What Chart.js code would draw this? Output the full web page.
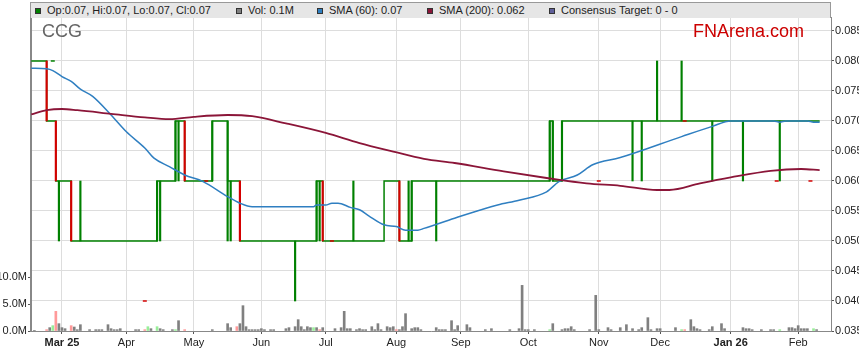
<!DOCTYPE html>
<html>
<head>
<meta charset="utf-8">
<title>CCG</title>
<script src="https://cdn.jsdelivr.net/npm/chart.js@4.4.1/dist/chart.umd.min.js"></script>
<style>
  body { margin: 0; background: #fff; font-family: "Liberation Sans", Arial, sans-serif; }
  #wrap { position: relative; width: 859px; height: 363px; overflow: hidden; }
  #price-chart { position: absolute; left: 0; top: 0; }
  #legend-bar { position: absolute; left: 30px; top: 2px; width: 799px; height: 15px; background: #e6e6e6;
                border: 1px solid #999; border-bottom: none; font-size: 11px; color: #222; }
  .legend-item { position: absolute; top: 0; height: 15px; line-height: 15px; white-space: nowrap; }
  .legend-item i { display: inline-block; width: 4px; height: 4px; border: 1px solid #333; margin-right: 6px;
                   vertical-align: 0px; }
  .stock-code { position: absolute; left: 42px; top: 22px; font-size: 18px; line-height: 18px; color: #666; }
  .watermark { position: absolute; left: 693px; top: 22px; font-size: 18px; line-height: 18px; color: #cc0000; }
</style>
</head>
<body>
<div id="wrap">
  <canvas id="price-chart" width="859" height="363"></canvas>
  <div id="legend-bar">
    <span class="legend-item" style="left:4px"><i style="background:#008000"></i>Op:0.07, Hi:0.07, Lo:0.07, Cl:0.07</span>
    <span class="legend-item" style="left:205px"><i style="background:#808080"></i>Vol: 0.1M</span>
    <span class="legend-item" style="left:286px"><i style="background:#2f7fc1"></i>SMA (60): 0.07</span>
    <span class="legend-item" style="left:396px"><i style="background:#8b1538"></i>SMA (200): 0.062</span>
    <span class="legend-item" style="left:518px"><i style="background:#60609a"></i>Consensus Target: 0 - 0</span>
  </div>
  <div class="stock-code">CCG</div>
  <div class="watermark">FNArena.com</div>
</div>
<script>
// Day index = trading (week) day counted from Mon 3 Mar 2025
const monthTickDays = [0, 21, 43, 65, 86, 109, 130, 152, 175, 195, 218, 240];
const monthLabels = ["Mar 25", "Apr", "May", "Jun", "Jul", "Aug", "Sep", "Oct", "Nov", "Dec", "Jan 26", "Feb"];
const priceTicks = [0.035, 0.040, 0.045, 0.050, 0.055, 0.060, 0.065, 0.070, 0.075, 0.080, 0.085];
const volumeTicks = [0, 5, 10]; // millions

// Close price: day the close moved and the new close
const closeDays = [-10, -5, -2, 3, 31, 37, 40, 49, 54, 58, 83, 85, 105, 110, 114, 159, 160, 163, 247];
const closeVals = [0.08, 0.07, 0.06, 0.05, 0.06, 0.07, 0.06, 0.07, 0.06, 0.05, 0.06, 0.05, 0.06, 0.05, 0.06, 0.07, 0.06, 0.07, 0.07];

// High-low ranges (1 = up day, 0 = down day)
const barDays  = [-5, -2, -1, 3, 6, 31, 32, 37, 38, 40, 49, 54, 55, 58, 76, 83, 84, 85, 95, 110, 113, 114, 122, 159, 160, 163, 186, 189, 194, 202, 212, 222, 234];
const barLows  = [0.07, 0.06, 0.05, 0.05, 0.05, 0.05, 0.05, 0.06, 0.06, 0.06, 0.06, 0.05, 0.05, 0.05, 0.04, 0.05, 0.05, 0.05, 0.05, 0.05, 0.05, 0.05, 0.05, 0.06, 0.06, 0.06, 0.06, 0.06, 0.07, 0.07, 0.06, 0.06, 0.06];
const barHighs = [0.08, 0.07, 0.06, 0.06, 0.06, 0.06, 0.06, 0.07, 0.07, 0.07, 0.07, 0.07, 0.06, 0.06, 0.05, 0.06, 0.06, 0.06, 0.06, 0.06, 0.06, 0.06, 0.06, 0.07, 0.07, 0.07, 0.07, 0.07, 0.08, 0.08, 0.07, 0.07, 0.07];
const barUp    = [0, 0, 1, 0, 1, 1, 1, 1, 1, 0, 1, 1, 1, 0, 1, 1, 1, 0, 1, 0, 1, 1, 1, 1, 1, 1, 1, 1, 1, 1, 1, 1, 1];

// Stray open/close ticks
const tickDays = [-3, 27, 47, 88, 175, 203, 233, 244];
const tickVals = [0.08, 0.04, 0.06, 0.05, 0.06, 0.07, 0.06, 0.06];
const tickUp   = [1, 0, 0, 0, 0, 0, 0, 0];

// Moving averages
const sma60Days = [-10, -5, -3, 0, 3, 6, 10, 16, 21, 27, 30, 35, 40, 46, 54, 58, 62, 82, 83, 86, 88, 90, 94, 97, 100, 105, 109, 112, 116, 118, 128, 142, 149, 158, 162, 168, 173, 182, 202, 212, 218, 232, 234, 236, 243, 245, 247];
const sma60 = [0.0788, 0.0787, 0.0784, 0.0774, 0.0766, 0.0753, 0.0741, 0.0710, 0.0682, 0.0655, 0.0638, 0.0624, 0.0610, 0.0599, 0.0574, 0.0563, 0.0557, 0.0557, 0.0560, 0.0560, 0.0563, 0.0563, 0.0556, 0.0552, 0.0542, 0.0527, 0.0524, 0.0518, 0.0518, 0.0521, 0.0538, 0.0560, 0.0568, 0.0582, 0.0599, 0.0610, 0.0627, 0.0639, 0.0674, 0.0691, 0.0700, 0.0700, 0.0698, 0.0700, 0.0700, 0.0698, 0.0698];
const sma200Days = [-10, -5, 0, 5, 16, 27, 35, 43, 54, 62, 73, 86, 97, 108, 118, 128, 144, 158, 171, 182, 194, 198, 208, 218, 231, 241, 247];
const sma200 = [0.0711, 0.0718, 0.0720, 0.0718, 0.0712, 0.0706, 0.0703, 0.0707, 0.0710, 0.0708, 0.0696, 0.0680, 0.0663, 0.0649, 0.0637, 0.0630, 0.0616, 0.0605, 0.0596, 0.0592, 0.0585, 0.0585, 0.0596, 0.0606, 0.0617, 0.0620, 0.0618];

// Volume in millions
const volDays = [-9, -5, -4, -3, -2, -1, 0, 1, 3, 4, 5, 6, 9, 11, 12, 13, 15, 16, 17, 18, 19, 24, 25, 27, 28, 29, 31, 32, 33, 36, 37, 38, 40, 49,
  54, 55, 57, 58, 59, 60, 61, 62, 63, 64, 65, 66, 68, 69, 73, 74, 76, 77, 78, 79, 80, 81, 82, 83, 84, 85, 89, 91, 92, 93, 94, 96, 97, 98, 99,
  101, 102, 103, 104, 106, 107, 108, 109, 110, 111, 112, 114, 115, 116, 117, 122, 123, 124, 125, 127, 128, 129, 132, 133, 138, 140, 146, 149,
  150, 151, 152, 154, 159, 160, 163, 164, 165, 166, 167, 172, 174, 175, 178, 179, 182, 184, 186, 188, 189, 191, 192, 194, 195, 200, 202, 203,
  205, 206, 207, 208, 211, 212, 215, 216, 222, 223, 224, 225, 228, 231, 232, 234, 237, 238, 239, 240, 241, 242, 243, 245, 246];
const volumes = [0.12, 0.25, 0.62, 0.99, 3.64, 1.36, 0.62, 0.43, 0.99, 0.74, 0.25, 1.17, 0.25, 0.25, 0.25, 0.25, 1.17, 0.43, 0.25, 0.25, 0.43, 0.25, 0.25, 0.25, 0.80, 0.43, 0.80, 0.43, 0.25, 0.25, 0.25, 1.91, 0.25, 0.25,
  1.36, 0.62, 0.80, 1.36, 4.69, 0.80, 0.25, 0.25, 0.25, 0.25, 0.43, 0.25, 0.25, 0.25, 0.43, 0.62, 0.80, 2.10, 0.80, 0.25, 0.80, 0.62, 0.62, 0.62, 0.25, 0.62, 0.43, 0.62, 3.64, 0.43, 0.43, 0.25, 0.43, 0.25, 0.25,
  0.80, 0.25, 1.36, 0.25, 0.80, 0.62, 0.80, 0.25, 0.25, 0.80, 3.21, 0.43, 0.62, 0.62, 0.25, 0.62, 0.25, 0.25, 0.25, 1.91, 0.25, 0.99, 1.17, 0.62, 0.25, 0.43, 0.25, 0.43,
  8.45, 0.25, 0.25, 0.25, 0.25, 1.36, 0.25, 0.43, 0.43, 0.80, 0.25, 0.25, 6.60, 0.25, 0.62, 0.25, 0.62, 1.17, 0.43, 0.25, 0.62, 2.47, 0.25, 0.43, 0.43, 0.62, 0.25, 0.25,
  2.10, 0.80, 0.43, 0.25, 0.25, 0.80, 1.36, 0.43, 0.62, 0.43, 0.43, 0.25, 0.25, 0.25, 0.25, 0.25, 0.62, 0.62, 0.43, 0.99, 0.43, 0.43, 0.43, 0.43, 0.25];
const upVolDays = [-3, 28, 31, 37, 82, 159, 202, 234, 245];
const downVolDays = [-5, -2, 3, 27, 40, 57, 84, 109, 203];

// Colours
const UP_GREEN = "#008000";
const DOWN_RED = "#d40000";
const FONT_FAMILY = '"Liberation Sans", Arial, sans-serif';

Chart.defaults.font.family = FONT_FAMILY;
Chart.defaults.font.size = 11;
Chart.defaults.color = "#222";

function volumeColour(day) {
    if (upVolDays.includes(day)) return "#99ee99";
    if (downVolDays.includes(day)) return "#ff9a9a";
    return "#808080";
}

// Build datasets from the arrays
const closePoints = closeDays.map((d, i) => ({ x: d, y: closeVals[i] }));
const rangePoints = barDays.map((d, i) => ({ x: d, y: [barLows[i], barHighs[i]] }));
const tickPoints = tickDays.map((d, i) => ({ x: d, y: tickVals[i] }));
const sma60Points = sma60Days.map((d, i) => ({ x: d, y: sma60[i] }));
const sma200Points = sma200Days.map((d, i) => ({ x: d, y: sma200[i] }));
const volumePoints = volDays.map((d, i) => ({ x: d, y: volumes[i] }));

const ctx = document.getElementById("price-chart").getContext("2d");
const chartInstance = new Chart(ctx, {
    type: "line",
    data: {
        datasets: [
            {
                label: "SMA (200)", data: sma200Points, yAxisID: "price", order: 0,
                borderColor: "#8b1538", borderWidth: 1.8, pointRadius: 0, cubicInterpolationMode: "monotone"
            },
            {
                label: "SMA (60)", data: sma60Points, yAxisID: "price", order: 1,
                borderColor: "#2f7fc1", borderWidth: 1.5, pointRadius: 0, cubicInterpolationMode: "monotone"
            },
            {
                label: "Ticks", data: tickPoints, yAxisID: "price", order: 2, showLine: false,
                pointStyle: "line", pointRadius: 2, pointBorderWidth: 1.5,
                pointBorderColor: tickUp.map(u => u ? UP_GREEN : DOWN_RED)
            },
            {
                type: "bar", label: "Range", data: rangePoints, yAxisID: "price", order: 3,
                grouped: false, barThickness: 1.5,
                backgroundColor: barUp.map(u => u ? UP_GREEN : DOWN_RED)
            },
            {
                // horizontal at the old close, then vertical on the day it moved
                label: "Close", data: closePoints, yAxisID: "price", order: 4,
                stepped: "before", borderColor: UP_GREEN, borderWidth: 1.5, pointRadius: 0
            },
            {
                type: "bar", label: "Vol", data: volumePoints, yAxisID: "volume", order: 5,
                grouped: false, barThickness: 2,
                backgroundColor: volDays.map(volumeColour)
            }
        ]
    },
    options: {
        responsive: false,
        animation: false,
        devicePixelRatio: 1,
        layout: { padding: { top: 17, left: 0, right: 0, bottom: 0 } },
        plugins: { legend: { display: false }, tooltip: { enabled: false } },
        scales: {
            x: {
                type: "linear", min: -10.1, max: 250.7, offset: false,
                grid: { color: "#dddddd", tickColor: "#555", tickLength: 3, offset: false },
                border: { color: "#888888" },
                afterBuildTicks: s => { s.ticks = monthTickDays.map(v => ({ value: v })); },
                afterFit: s => { s.height = 32; },
                ticks: {
                    autoSkip: false, maxRotation: 0, padding: 2,
                    font: c => ({ family: FONT_FAMILY, size: 11,
                        weight: (monthLabels[c.index] || "").includes(" ") ? "bold" : "normal" }),
                    callback: (v, i) => monthLabels[i]
                }
            },
            price: {
                type: "linear", position: "right", min: 0.035, max: 0.08733,
                grid: { color: "#dddddd", tickColor: "#555", tickLength: 3 },
                border: { color: "#888888" },
                afterBuildTicks: s => { s.ticks = priceTicks.map(v => ({ value: v })); },
                afterFit: s => { s.width = 28; },
                ticks: { padding: 1, callback: v => v.toFixed(3) }
            },
            volume: {
                type: "linear", position: "left", min: 0, max: 58.15,
                grid: { drawOnChartArea: false, tickColor: "#555", tickLength: 3 },
                border: { color: "#888888", width: 2 },
                afterBuildTicks: s => { s.ticks = volumeTicks.map(v => ({ value: v })); },
                afterFit: s => { s.width = 31; },
                ticks: { padding: 1, callback: v => v.toFixed(1) + "M" }
            }
        }
    }
});
</script>
</body>
</html>
